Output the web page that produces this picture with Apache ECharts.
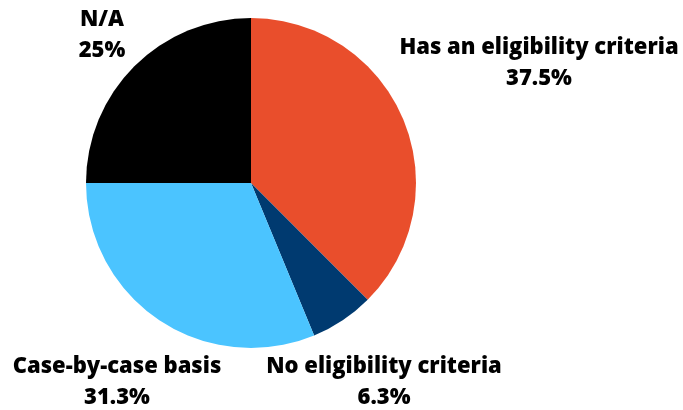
<!DOCTYPE html>
<html><head><meta charset="utf-8">
<script src="https://cdn.jsdelivr.net/npm/echarts@6/dist/echarts.min.js"></script>
<style>html,body{margin:0;padding:0;background:#fff}#c{width:683px;height:410px}</style>
</head><body><div id="c"></div>
<script>
const categories = ['Has an eligibility criteria', 'No eligibility criteria', 'Case-by-case basis', 'N/A'];
const values = [6, 1, 5, 4];
const percentLabels = ['37.5%', '6.3%', '31.3%', '25%'];
const colors = ['#E94E2C', '#003A70', '#4BC4FF', '#000000'];
const labelPos = [[539, 63], [384, 382], [117, 382], [102, 35]];

const chart = echarts.init(document.getElementById('c'), null, {renderer: 'canvas'});
chart.setOption({
  animation: false,
  series: [{
    type: 'pie',
    center: [251, 183],
    radius: [0, 165],
    startAngle: 90,
    clockwise: true,
    data: categories.map((c, i) => ({name: c, value: values[i], itemStyle: {color: colors[i]}})),
    label: {
      show: true,
      position: 'outside',
      formatter: p => p.name + '\n' + percentLabels[p.dataIndex],
      fontFamily: 'Open Sans',
      fontWeight: 800,
      fontSize: 22,
      lineHeight: 31,
      color: '#000',
      align: 'center',
      overflow: 'none'
    },
    labelLine: {show: false},
    labelLayout: p => ({x: labelPos[p.dataIndex][0], y: labelPos[p.dataIndex][1], align: 'center', verticalAlign: 'middle'})
  }]
});
</script></body></html>
